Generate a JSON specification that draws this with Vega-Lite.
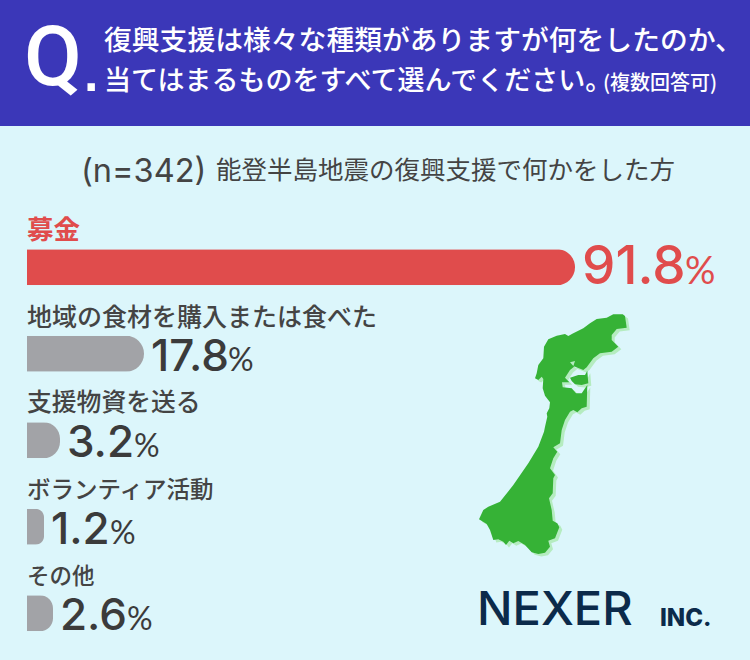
{
"$schema":"https://vega.github.io/schema/vega-lite/v6.json",
"width":750,"height":660,"padding":0,
"autosize":{"type":"fit","contains":"padding"},
"background":"#dcf6fb",
"config":{"view":{"stroke":null}},
"datasets":{
"bars":[
{"item":"募金","value":91.8},
{"item":"地域の食材を購入または食べた","value":17.8},
{"item":"支援物資を送る","value":3.2},
{"item":"ボランティア活動","value":1.2},
{"item":"その他","value":2.6}],
"mapShadow":[{"type":"Feature","properties":{"name":"影"},"geometry":{"type":"MultiPolygon","coordinates":[[[[628,318.5],[625.7,316.8],[616.3,316.8],[609.7,320.2],[599.7,321.5],[593,325.8],[586.3,330.8],[576.3,335.8],[571.3,338.5],[568,336.5],[559.7,338.2],[551.3,341.8],[547,349.2],[546.3,360.8],[541.3,367.5],[539.7,375.8],[538,380.8],[541.3,382.5],[544.7,379.2],[546.3,381.5],[545.7,390.8],[548,398.2],[553,404.8],[552.3,410.8],[549.7,415.8],[550.3,419.2],[548,429.2],[547,434.2],[541.3,449.2],[531.3,465.8],[516.3,487.5],[503,504.2],[491.3,509.2],[486.3,512.5],[482,521.8],[489.7,526.5],[493,532.5],[496.3,542.5],[501.3,541.8],[506.3,544.2],[509,547.5],[512.3,543.2],[516.3,545.8],[521.3,543.5],[528,547.5],[534.7,554.8],[541.3,556.5],[548,555.2],[553,549.2],[551.3,543.2],[558,540.8],[562.3,529.8],[560.3,525.8],[555.7,523.2],[554.7,512.5],[552,500.8],[555.7,495.8],[556.3,480.8],[558,477.5],[553,470.8],[556.3,460.8],[560.3,454.2],[556.3,449.8],[563,445.8],[564.7,432.5],[568,422.5],[573,414.2],[576.3,412.5],[580.3,414.8],[584.7,410.8],[589.7,409.2],[590.3,387.5],[584.7,395.8],[579,395.8],[574.7,390.8],[565.7,389.8],[565,384.8],[572.3,384.8],[568,380.2],[573,372.5],[577,369.2],[573,364.8],[578,363.5],[576.3,368.5],[586.3,372.5],[589.7,369.8],[596.3,360.8],[603,355.8],[614.7,354.2],[621.3,349.2],[614.7,342.5],[614.7,337.5],[619.7,331.5],[629.7,330.2],[628,318.5]]],[[[573,380.2],[581.3,377.5],[588,377.5],[590.3,373.2],[591.3,385.8],[584.7,387.5],[578,386.8],[574.7,383.5],[573,380.2]]]]}}],
"map":[{"type":"Feature","properties":{"name":"石川県"},"geometry":{"type":"MultiPolygon","coordinates":[[[[625,316],[622.7,314.3],[613.3,314.3],[606.7,317.7],[596.7,319],[590,323.3],[583.3,328.3],[573.3,333.3],[568.3,336],[565,334],[556.7,335.7],[548.3,339.3],[544,346.7],[543.3,358.3],[538.3,365],[536.7,373.3],[535,378.3],[538.3,380],[541.7,376.7],[543.3,379],[542.7,388.3],[545,395.7],[550,402.3],[549.3,408.3],[546.7,413.3],[547.3,416.7],[545,426.7],[544,431.7],[538.3,446.7],[528.3,463.3],[513.3,485],[500,501.7],[488.3,506.7],[483.3,510],[479,519.3],[486.7,524],[490,530],[493.3,540],[498.3,539.3],[503.3,541.7],[506,545],[509.3,540.7],[513.3,543.3],[518.3,541],[525,545],[531.7,552.3],[538.3,554],[545,552.7],[550,546.7],[548.3,540.7],[555,538.3],[559.3,527.3],[557.3,523.3],[552.7,520.7],[551.7,510],[549,498.3],[552.7,493.3],[553.3,478.3],[555,475],[550,468.3],[553.3,458.3],[557.3,451.7],[553.3,447.3],[560,443.3],[561.7,430],[565,420],[570,411.7],[573.3,410],[577.3,412.3],[581.7,408.3],[586.7,406.7],[587.3,385],[581.7,393.3],[576,393.3],[571.7,388.3],[562.7,387.3],[562,382.3],[569.3,382.3],[565,377.7],[570,370],[574,366.7],[570,362.3],[575,361],[573.3,366],[583.3,370],[586.7,367.3],[593.3,358.3],[600,353.3],[611.7,351.7],[618.3,346.7],[611.7,340],[611.7,335],[616.7,329],[626.7,327.7],[625,316]]],[[[570,377.7],[578.3,375],[585,375],[587.3,370.7],[588.3,383.3],[581.7,385],[575,384.3],[571.7,381],[570,377.7]]]]}}]
},
"projection":{"type":"identity","scale":1,"translate":[0,0]},
"layer":[
{"data":{"values":[{}]},"mark":{"type":"rect","x":0,"x2":750,"y":0,"y2":126,"color":"#3b37b8"},"encoding":{}},
{"data":{"values":[{"t":"Q"}]},"mark":{"type":"text","x":24,"y":85,"align":"left","baseline":"alphabetic","font":"Roboto","fontWeight":500,"fontSize":84,"color":"#ffffff"},"encoding":{"text":{"field":"t"}}},
{"data":{"values":[{"t":"."}]},"mark":{"type":"text","x":84,"y":91,"align":"left","baseline":"alphabetic","font":"Liberation Sans","fontWeight":700,"fontSize":52,"color":"#ffffff"},"encoding":{"text":{"field":"t"}}},
{"data":{"values":[{"t":"復興支援は様々な種類がありますが何をしたのか、"}]},"mark":{"type":"text","x":104,"y":42,"align":"left","baseline":"middle","font":"Noto Sans CJK JP","fontWeight":500,"fontSize":27.8,"color":"#ffffff"},"encoding":{"text":{"field":"t"}}},
{"data":{"values":[{"t":"当てはまるものをすべて選んでください。"}]},"mark":{"type":"text","x":104,"y":82,"align":"left","baseline":"middle","font":"Noto Sans CJK JP","fontWeight":500,"fontSize":27,"color":"#ffffff"},"encoding":{"text":{"field":"t"}}},
{"data":{"values":[{"t":"(複数回答可)"}]},"mark":{"type":"text","x":603,"y":84,"align":"left","baseline":"middle","font":"Noto Sans CJK JP","fontWeight":500,"fontSize":20,"color":"#ffffff"},"encoding":{"text":{"field":"t"}}},
{"data":{"values":[{"t":"(n=342)"}]},"mark":{"type":"text","x":81,"y":182,"align":"left","baseline":"alphabetic","font":"Inter","fontSize":32.5,"color":"#444444"},"encoding":{"text":{"field":"t"}}},
{"data":{"values":[{"t":"能登半島地震の復興支援で何かをした方"}]},"mark":{"type":"text","x":216,"y":171,"align":"left","baseline":"middle","font":"Noto Sans CJK JP","fontWeight":400,"fontSize":25.5,"color":"#444444"},"encoding":{"text":{"field":"t"}}},
{"data":{"name":"mapShadow"},"mark":{"type":"geoshape","fill":"#b5ecc0","stroke":null},"encoding":{}},
{"data":{"name":"map"},"mark":{"type":"geoshape","fill":"#36b236","stroke":null},"encoding":{}},
{"data":{"values":[{"t":"NEXER"}]},"mark":{"type":"text","x":477,"y":625,"align":"left","baseline":"alphabetic","font":"Inter","fontSize":47,"fontWeight":500,"color":"#0b2a4a"},"encoding":{"text":{"field":"t"}}},
{"data":{"values":[{"t":"INC."}]},"mark":{"type":"text","x":660,"y":626,"align":"left","baseline":"alphabetic","font":"Inter","fontSize":24,"fontWeight":800,"color":"#0b2a4a"},"encoding":{"text":{"field":"t"}}},
{"data":{"name":"bars"},
"encoding":{
"y":{"field":"item","type":"nominal","sort":null,"axis":null,"scale":{"type":"band","domain":["募金","地域の食材を購入または食べた","支援物資を送る","ボランティア活動","その他"],"range":[224,656.5],"paddingInner":0,"paddingOuter":0}},
"color":{"field":"item","type":"nominal","legend":null,"scale":{"domain":["募金","地域の食材を購入または食べた","支援物資を送る","ボランティア活動","その他"],"range":["#e04c4c","#a2a3a7","#a2a3a7","#a2a3a7","#a2a3a7"]}}},
"layer":[
{"mark":{"type":"bar","size":36,"cornerRadiusEnd":18},
"encoding":{"x":{"field":"value","type":"quantitative","axis":null,"scale":{"domain":[0,1.2,2.6,3.2,17.8,91.8],"range":[27,44,53,60,144,575],"nice":false,"zero":false}}}},
{"mark":{"type":"text","align":"left","baseline":"middle","dy":-36,"font":"Noto Sans CJK JP","fontWeight":{"expr":"datum.value>50?700:500"}},
"encoding":{"x":{"datum":0},"text":{"field":"item"},
"size":{"condition":[{"test":"datum.value>50","value":26.5},{"test":"datum.value==17.8","value":25},{"test":"datum.value==1.2","value":23.5},{"test":"datum.value==2.6","value":22.5}],"value":24.8},
"color":{"condition":{"test":"datum.value>50","value":"#e04c4c"},"value":"#444444"}}},
{"mark":{"type":"text","align":"left","baseline":"alphabetic","dy":17,"dx":7,"font":"Inter","fontWeight":500},
"encoding":{"x":{"field":"value","type":"quantitative"},"text":{"field":"value","type":"quantitative","format":".1f"},
"size":{"condition":{"test":"datum.value>50","value":53},"value":44},
"color":{"condition":{"test":"datum.value>50","value":"#e04c4c"},"value":"#3b3b3b"}}},
{"mark":{"type":"text","align":"left","baseline":"alphabetic","dy":17,"dx":{"expr":"datum.value>50?110:datum.value>10?84:datum.value<2?66:74"},"font":"Lato"},
"encoding":{"x":{"field":"value","type":"quantitative"},"text":{"value":"%"},
"size":{"condition":{"test":"datum.value>50","value":38},"value":32},
"color":{"condition":{"test":"datum.value>50","value":"#e04c4c"},"value":"#3b3b3b"}}}
]}
]
}
